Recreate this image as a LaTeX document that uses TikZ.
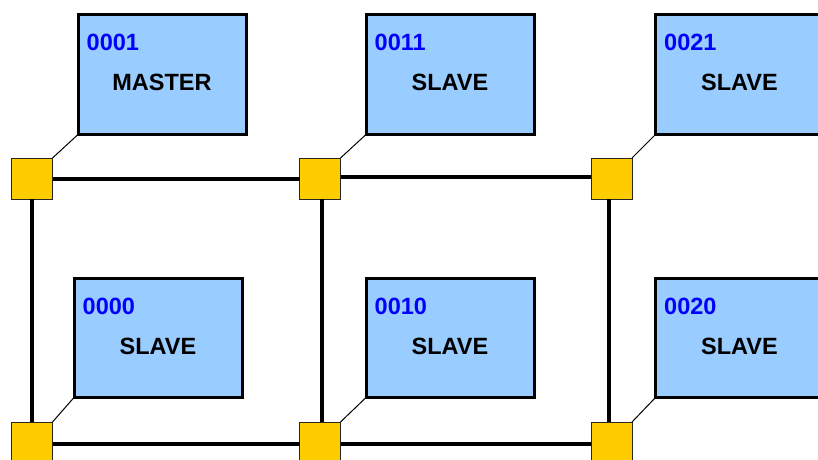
\documentclass[tikz,border=0pt]{standalone}
\usepackage{fontspec}
\setmainfont{Liberation Sans}
\definecolor{boxblue}{HTML}{99CCFF}
\definecolor{portyellow}{HTML}{FFCC00}
\definecolor{addrblue}{HTML}{0000FF}
\tikzset{
  devbox/.style={draw=black, line width=3pt, fill=boxblue, minimum width=168pt, minimum height=120pt, inner sep=0pt, outer sep=0pt},
  port/.style={draw=black!85, line width=1pt, fill=portyellow, minimum width=41pt, minimum height=41pt, inner sep=0pt, outer sep=0pt},
  addr/.style={inner sep=0pt, anchor=base west, text=addrblue, font=\fontsize{23.5}{28}\selectfont\bfseries},
  role/.style={inner sep=0pt, anchor=base, text=black, font=\fontsize{23.5}{28}\selectfont\bfseries},
  bus/.style={line width=4pt, black},
  tap/.style={line width=1pt, black}
}
\begin{document}
\begin{tikzpicture}[x=1pt,y=-1pt]
\useasboundingbox (0,0) rectangle (818,459);
\clip (0,0) rectangle (818,459);
% device boxes
\node[devbox] (b0001) at (162,74.5) {};
\node[devbox] (b0011) at (450,74.5) {};
\node[devbox] (b0021) at (739.5,74.5) {};
\node[devbox, minimum height=119pt] (b0000) at (158,338) {};
\node[devbox, minimum height=119pt] (b0010) at (450,338) {};
\node[devbox, minimum height=119pt] (b0020) at (739.5,338) {};
% labels
\foreach \b/\a/\r in {b0001/0001/MASTER, b0011/0011/SLAVE, b0021/0021/SLAVE, b0000/0000/SLAVE, b0010/0010/SLAVE, b0020/0020/SLAVE}{
  \node[addr] (a\a) at ([shift={(8.5,35.5)}]\b.north west) {\a};
  \node[role] (r\a) at ([yshift=76pt*-1]\b.north) {\r};
}
% ports
\node[port] (p00) at (32,178.5) {};
\node[port] (p10) at (320,178.5) {};
\node[port] (p20) at (611.5,178.5) {};
\node[port] (p01) at (32,442.5) {};
\node[port] (p11) at (320,442.5) {};
\node[port] (p21) at (611.5,442.5) {};
% bus lines
\draw[bus] ([yshift=-0.5pt]p00.east) -- ([yshift=-0.5pt]p10.west);
\draw[bus] ([yshift=1.5pt]p10.east) -- ([yshift=1.5pt]p20.west);
\draw[bus] ([yshift=-1.5pt]p01.east) -- ([yshift=-1.5pt]p11.west);
\draw[bus] ([yshift=-1.5pt]p11.east) -- ([yshift=-1.5pt]p21.west);
\draw[bus] (p00.south) -- (p01.north);
\draw[bus] ([xshift=2pt]p10.south) -- ([xshift=2pt]p11.north);
\draw[bus] ([xshift=-2.5pt]p20.south) -- ([xshift=-2.5pt]p21.north);
% taps
\draw[tap] (p00.north east) -- (b0001.south west);
\draw[tap] (p10.north east) -- (b0011.south west);
\draw[tap] (p20.north east) -- (b0021.south west);
\draw[tap] (p01.north east) -- (b0000.south west);
\draw[tap] (p11.north east) -- (b0010.south west);
\draw[tap] (p21.north east) -- (b0020.south west);
\end{tikzpicture}
\end{document}
